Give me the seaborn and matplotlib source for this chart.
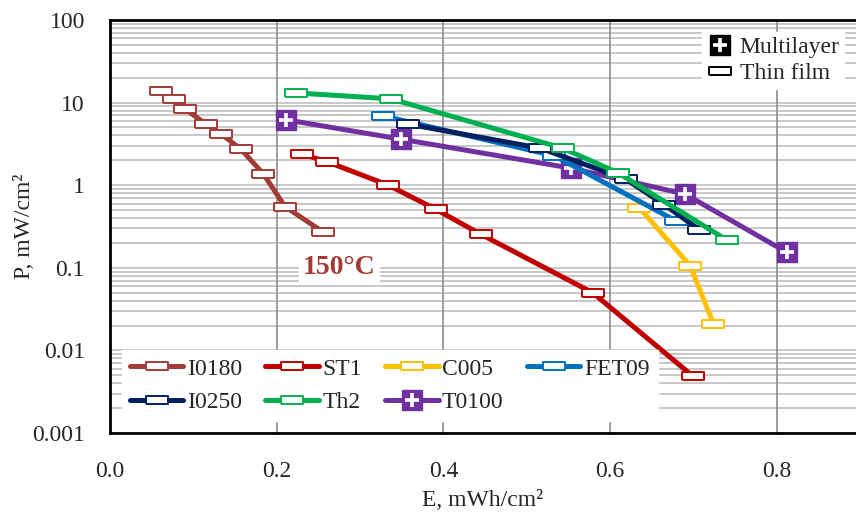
import numpy as np
import pandas as pd
import seaborn as sns
import matplotlib.pyplot as plt
from matplotlib.lines import Line2D
from matplotlib.ticker import FixedLocator, FuncFormatter, LogLocator, NullFormatter

# --- Data (E in mWh/cm2, P in mW/cm2) ---
I0180_E = [0.061, 0.077, 0.090, 0.115, 0.133, 0.157, 0.184, 0.210, 0.256]
I0180_P = [13.7, 11.1, 8.4, 5.5, 4.2, 2.73, 1.37, 0.55, 0.27]
ST1_E = [0.230, 0.260, 0.333, 0.391, 0.445, 0.579, 0.699]
ST1_P = [2.38, 1.93, 1.01, 0.51, 0.254, 0.050, 0.0049]
C005_E = [0.635, 0.696, 0.724]
C005_P = [0.535, 0.106, 0.021]
FET09_E = [0.328, 0.533, 0.679]
FET09_P = [6.9, 2.27, 0.37]
I0250_E = [0.357, 0.516, 0.619, 0.665, 0.707]
I0250_P = [5.5, 2.81, 1.18, 0.58, 0.29]
Th2_E = [0.223, 0.337, 0.543, 0.609, 0.740]
Th2_P = [13.1, 11.1, 2.81, 1.42, 0.217]
T0100_E = [0.211, 0.349, 0.553, 0.690, 0.812]
T0100_P = [6.2, 3.61, 1.61, 0.78, 0.154]

SERIES_NAMES = ['I0180', 'ST1', 'C005', 'FET09', 'I0250', 'Th2', 'T0100']
SERIES_COLORS = ['#A33B37', '#C00000', '#FFC000', '#0070C0', '#002060', '#00B050', '#7030A0']
MULTILAYER = ['T0100']
X_TICKS = [0.0, 0.2, 0.4, 0.6, 0.8]
Y_TICKS = [0.001, 0.01, 0.1, 1, 10, 100]

series_data = {
    'I0180': (I0180_E, I0180_P), 'ST1': (ST1_E, ST1_P), 'C005': (C005_E, C005_P),
    'FET09': (FET09_E, FET09_P), 'I0250': (I0250_E, I0250_P), 'Th2': (Th2_E, Th2_P),
    'T0100': (T0100_E, T0100_P),
}

# --- Style ---
sns.set_style('white')
plt.rcParams['font.family'] = ['Liberation Serif', 'DejaVu Serif']
FS = 17
plt.rcParams['font.size'] = FS

# thin-film marker: flat rectangle
RECT = [(-1, -0.32), (1, -0.32), (1, 0.32), (-1, 0.32), (-1, -0.32)]
LW = 3.6

fig = plt.figure(figsize=(8.56, 5.25), dpi=100)
ax = fig.add_axes([110 / 856, 92 / 525, 746 / 856, 413 / 525])

# purple multilayer series sits under the others
draw_order = ['T0100', 'I0180', 'ST1', 'C005', 'FET09', 'I0250', 'Th2']
for i, name in enumerate(draw_order):
    e, p = series_data[name]
    color = SERIES_COLORS[SERIES_NAMES.index(name)]
    df = pd.DataFrame({'E': e, 'P': p})
    if name in MULTILAYER:
        sns.lineplot(data=df, x='E', y='P', ax=ax, color=color, lw=LW,
                     marker='s', ms=15, mfc=color, mec=color, mew=1, zorder=3 + i)
        ax.plot(e, p, ls='none', marker='+', ms=10, mew=2.6, color='white', zorder=3 + i)
    else:
        sns.lineplot(data=df, x='E', y='P', ax=ax, color=color, lw=LW,
                     marker=RECT, ms=16, mfc='white', mec=color, mew=1.4, zorder=3 + i)

ax.set_yscale('log')
ax.set_xlim(0, 0.895)
ax.set_ylim(0.001, 100)

ax.xaxis.set_major_locator(FixedLocator(X_TICKS))
ax.xaxis.set_major_formatter(FuncFormatter(lambda v, pos: f'{v:.1f}'))
ax.yaxis.set_major_locator(FixedLocator(Y_TICKS))
ax.yaxis.set_major_formatter(FuncFormatter(lambda v, pos: f'{v:g}'))
ax.yaxis.set_minor_locator(LogLocator(base=10, subs=np.arange(2, 10)))
ax.yaxis.set_minor_formatter(NullFormatter())

ax.grid(False)
ax.grid(True, axis='y', which='both', color='#BFBFBF', lw=1.2, zorder=0)
for xv in X_TICKS[1:]:
    ax.axvline(xv, color='#8C8C8C', lw=1.2, zorder=1)

ax.tick_params(axis='y', which='major', direction='out', length=6, width=2, color='black', pad=12)
ax.tick_params(axis='y', which='minor', length=0)
ax.tick_params(axis='x', which='major', direction='out', length=6, width=2, color='black', pad=14)
for side in ['left', 'bottom', 'top']:
    ax.spines[side].set_color('black')
    ax.spines[side].set_linewidth(2)
ax.spines['right'].set_visible(False)

ax.set_xlabel('E, mWh/cm²', labelpad=6)
ax.set_ylabel('P, mW/cm²', labelpad=-2)

ax.text(0.275, 0.1, '150°C', color='#A33B37', fontweight='bold', fontsize=20,
        ha='center', va='center',
        bbox=dict(facecolor='white', edgecolor='none', pad=3), zorder=2)

# --- Series legend (bottom) ---
handles = {}
for name, color in zip(SERIES_NAMES, SERIES_COLORS):
    if name in MULTILAYER:
        h = (Line2D([], [], color=color, lw=LW, marker='s', ms=15, mfc=color, mec=color),
             Line2D([], [], ls='none', marker='+', ms=10, mew=2.6, color='white'))
    else:
        h = Line2D([], [], color=color, lw=LW, marker=RECT, ms=16, mfc='white', mec=color, mew=1.4)
    handles[name] = h
order = ['I0180', 'I0250', 'ST1', 'Th2', 'C005', 'T0100', 'FET09']
leg1 = ax.legend([handles[n] for n in order], order, ncol=4, loc='lower left',
                 bbox_to_anchor=(0.0, 0.0), frameon=True, fancybox=False, framealpha=1,
                 edgecolor='white', facecolor='white', handlelength=2.25, handletextpad=0.15,
                 columnspacing=1.0, borderpad=0.35, labelspacing=0.5, fontsize=FS)
leg1.set_zorder(20)
ax.add_artist(leg1)

# --- Marker type legend (top right) ---
mh = (Line2D([], [], ls='none', marker='s', ms=15, mfc='black', mec='black'),
      Line2D([], [], ls='none', marker='+', ms=10, mew=2.6, color='white'))
th = Line2D([], [], ls='none', marker=RECT, ms=16, mfc='white', mec='black', mew=1.4)
leg2 = ax.legend([mh, th], ['Multilayer', 'Thin film'], loc='upper right',
                 bbox_to_anchor=(1.0, 1.0), frameon=True, fancybox=False, framealpha=1,
                 edgecolor='white', facecolor='white', handlelength=1.1, handletextpad=0.3,
                 borderpad=0.2, labelspacing=0.2, fontsize=FS)
leg2.set_zorder(20)

fig.savefig('out.png', dpi=100)
